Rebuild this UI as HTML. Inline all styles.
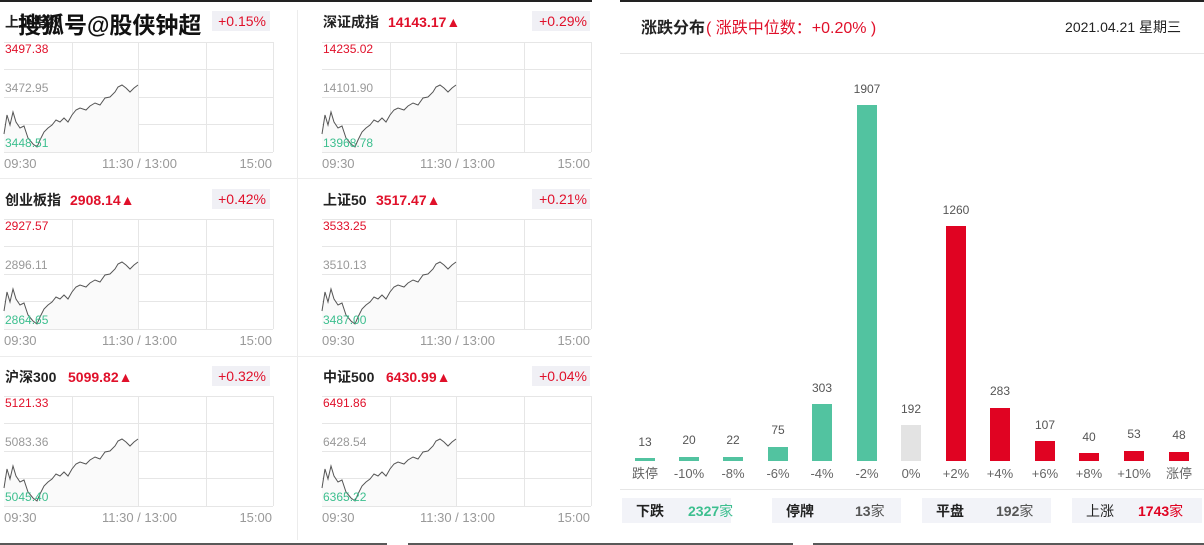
<!DOCTYPE html>
<html><head><meta charset="utf-8"><style>
body{margin:0;width:1204px;height:545px;background:#fff;position:relative;overflow:hidden;font-family:"Liberation Sans","Noto Sans CJK SC",sans-serif;}
.a{position:absolute;white-space:nowrap}
</style></head><body>
<svg class="a" style="left:0;top:0" width="1204" height="545" font-family="Liberation Sans, Noto Sans CJK SC, sans-serif">
<defs>
<g id="grid" stroke="#e6e6e6" stroke-width="1" fill="none">
<line x1="4" y1="42.5" x2="273" y2="42.5"/><line x1="4" y1="69.5" x2="273" y2="69.5"/><line x1="4" y1="97.5" x2="273" y2="97.5"/><line x1="4" y1="124.5" x2="273" y2="124.5"/><line x1="4" y1="152.5" x2="273" y2="152.5"/>
<line x1="72.5" y1="42" x2="72.5" y2="152"/><line x1="138.5" y1="42" x2="138.5" y2="152"/><line x1="206.5" y1="42" x2="206.5" y2="152"/><line x1="273.5" y1="42" x2="273.5" y2="152"/>
</g>
<g id="ln">
<path d="M4,134 L7,115 10,125 13,112 16,122 20,128 24,126 28,138 33,144 37,147 40,140 44,132 48,128 52,125 56,120 60,122 64,118 68,122 72,115 76,110 80,108 86,110 90,106 95,103 100,105 105,98 110,97 115,92 118,87 122,85 126,88 130,92 134,88 138,85 L138,152 L4,152 Z" fill="#fafafa"/>
<polyline points="4,134 7,115 10,125 13,112 16,122 20,128 24,126 28,138 33,144 37,147 40,140 44,132 48,128 52,125 56,120 60,122 64,118 68,122 72,115 76,110 80,108 86,110 90,106 95,103 100,105 105,98 110,97 115,92 118,87 122,85 126,88 130,92 134,88 138,85" fill="none" stroke="#555" stroke-width="1"/>
</g>
</defs>
<g font-size="13">
<g transform="translate(0,0)"><use href="#grid"/><use href="#ln"/></g>
<g transform="translate(318,0)"><use href="#grid"/><use href="#ln"/></g>
<g transform="translate(0,177)"><use href="#grid"/><use href="#ln"/></g>
<g transform="translate(318,177)"><use href="#grid"/><use href="#ln"/></g>
<g transform="translate(0,354)"><use href="#grid"/><use href="#ln"/></g>
<g transform="translate(318,354)"><use href="#grid"/><use href="#ln"/></g>
</g>
<g stroke="#ececec"><line x1="0" y1="178.5" x2="592" y2="178.5"/><line x1="0" y1="356.5" x2="592" y2="356.5"/><line x1="297.5" y1="10" x2="297.5" y2="540"/></g>
<g font-size="14">
<rect x="212" y="11" width="58" height="20" fill="#f0f0f5"/><text x="266" y="26" fill="#e0102a" text-anchor="end">+0.15%</text>
<text x="5" y="27" fill="#222" font-weight="bold">上证指数</text>
<text x="18" y="33" fill="#111" font-size="23" font-weight="bold">搜狐号@股侠钟超</text>
<rect x="532" y="11" width="58" height="20" fill="#f0f0f5"/><text x="587" y="26" fill="#e0102a" text-anchor="end">+0.29%</text>
<text x="323" y="27" fill="#222" font-weight="bold">深证成指</text><text x="388" y="27" fill="#e0102a" font-weight="bold">14143.17▲</text>
<rect x="212" y="189" width="58" height="20" fill="#f0f0f5"/><text x="266" y="204" fill="#e0102a" text-anchor="end">+0.42%</text>
<text x="5" y="205" fill="#222" font-weight="bold">创业板指</text><text x="70" y="205" fill="#e0102a" font-weight="bold">2908.14▲</text>
<rect x="532" y="189" width="58" height="20" fill="#f0f0f5"/><text x="587" y="204" fill="#e0102a" text-anchor="end">+0.21%</text>
<text x="323" y="205" fill="#222" font-weight="bold">上证50</text><text x="376" y="205" fill="#e0102a" font-weight="bold">3517.47▲</text>
<rect x="212" y="366" width="58" height="20" fill="#f0f0f5"/><text x="266" y="381" fill="#e0102a" text-anchor="end">+0.32%</text>
<text x="5" y="382" fill="#222" font-weight="bold">沪深300</text><text x="68" y="382" fill="#e0102a" font-weight="bold">5099.82▲</text>
<rect x="532" y="366" width="58" height="20" fill="#f0f0f5"/><text x="587" y="381" fill="#e0102a" text-anchor="end">+0.04%</text>
<text x="323" y="382" fill="#222" font-weight="bold">中证500</text><text x="386" y="382" fill="#e0102a" font-weight="bold">6430.99▲</text>
</g>
<g font-size="12">
<text x="5" y="53" fill="#e0102a">3497.38</text><text x="5" y="92" fill="#999">3472.95</text><text x="5" y="147" fill="#3dbf8f">3448.51</text>
<text x="323" y="53" fill="#e0102a">14235.02</text><text x="323" y="92" fill="#999">14101.90</text><text x="323" y="147" fill="#3dbf8f">13968.78</text>
<text x="5" y="230" fill="#e0102a">2927.57</text><text x="5" y="269" fill="#999">2896.11</text><text x="5" y="324" fill="#3dbf8f">2864.65</text>
<text x="323" y="230" fill="#e0102a">3533.25</text><text x="323" y="269" fill="#999">3510.13</text><text x="323" y="324" fill="#3dbf8f">3487.00</text>
<text x="5" y="407" fill="#e0102a">5121.33</text><text x="5" y="446" fill="#999">5083.36</text><text x="5" y="501" fill="#3dbf8f">5045.40</text>
<text x="323" y="407" fill="#e0102a">6491.86</text><text x="323" y="446" fill="#999">6428.54</text><text x="323" y="501" fill="#3dbf8f">6365.22</text>
</g>
<g font-size="13" fill="#999">
<text x="4" y="168">09:30</text><text x="102" y="168">11:30 / 13:00</text><text x="272" y="168" text-anchor="end">15:00</text>
<text x="322" y="168">09:30</text><text x="420" y="168">11:30 / 13:00</text><text x="590" y="168" text-anchor="end">15:00</text>
<text x="4" y="345">09:30</text><text x="102" y="345">11:30 / 13:00</text><text x="272" y="345" text-anchor="end">15:00</text>
<text x="322" y="345">09:30</text><text x="420" y="345">11:30 / 13:00</text><text x="590" y="345" text-anchor="end">15:00</text>
<text x="4" y="522">09:30</text><text x="102" y="522">11:30 / 13:00</text><text x="272" y="522" text-anchor="end">15:00</text>
<text x="322" y="522">09:30</text><text x="420" y="522">11:30 / 13:00</text><text x="590" y="522" text-anchor="end">15:00</text>
</g>
<line x1="0" y1="1" x2="592" y2="1" stroke="#222" stroke-width="2"/>
<line x1="620" y1="1" x2="1204" y2="1" stroke="#222" stroke-width="2"/>
<text x="641" y="33" font-size="16" font-weight="bold" fill="#222">涨跌分布</text>
<text x="706" y="33" font-size="16" fill="#e0102a">( 涨跌中位数：+0.20% )</text>
<text x="1181" y="32" font-size="14" fill="#222" text-anchor="end">2021.04.21 星期三</text>
<line x1="620" y1="53.5" x2="1204" y2="53.5" stroke="#e6e6e6"/>
<g font-size="12" fill="#555" text-anchor="middle">
<rect x="635" y="458" width="20" height="3" fill="#52c3a0"/><text x="645" y="446">13</text>
<rect x="679" y="457" width="20" height="4" fill="#52c3a0"/><text x="689" y="444">20</text>
<rect x="723" y="457" width="20" height="4" fill="#52c3a0"/><text x="733" y="444">22</text>
<rect x="768" y="447" width="20" height="14" fill="#52c3a0"/><text x="778" y="434">75</text>
<rect x="812" y="404" width="20" height="57" fill="#52c3a0"/><text x="822" y="392">303</text>
<rect x="857" y="105" width="20" height="356" fill="#52c3a0"/><text x="867" y="93">1907</text>
<rect x="901" y="425" width="20" height="36" fill="#e3e3e3"/><text x="911" y="413">192</text>
<rect x="946" y="226" width="20" height="235" fill="#e00322"/><text x="956" y="214">1260</text>
<rect x="990" y="408" width="20" height="53" fill="#e00322"/><text x="1000" y="395">283</text>
<rect x="1035" y="441" width="20" height="20" fill="#e00322"/><text x="1045" y="429">107</text>
<rect x="1079" y="453" width="20" height="8" fill="#e00322"/><text x="1089" y="441">40</text>
<rect x="1124" y="451" width="20" height="10" fill="#e00322"/><text x="1134" y="438">53</text>
<rect x="1169" y="452" width="20" height="9" fill="#e00322"/><text x="1179" y="439">48</text>
<g font-size="13" fill="#666">
<text x="645" y="478">跌停</text><text x="689" y="478">-10%</text><text x="733" y="478">-8%</text><text x="778" y="478">-6%</text><text x="822" y="478">-4%</text><text x="867" y="478">-2%</text><text x="911" y="478">0%</text><text x="956" y="478">+2%</text><text x="1000" y="478">+4%</text><text x="1045" y="478">+6%</text><text x="1089" y="478">+8%</text><text x="1134" y="478">+10%</text><text x="1179" y="478">涨停</text>
</g></g>
<line x1="620" y1="489.5" x2="1204" y2="489.5" stroke="#e6e6e6"/>
<g font-size="14" font-weight="bold">
<rect x="622" y="498" width="109" height="25" fill="#f2f3f8"/><text x="636" y="516" fill="#222">下跌</text><text x="688" y="516" fill="#3dbf8f">2327<tspan font-weight="normal">家</tspan></text>
<rect x="772" y="498" width="129" height="25" fill="#f2f3f8"/><text x="786" y="516" fill="#222">停牌</text><text x="855" y="516" fill="#555">13<tspan font-weight="normal">家</tspan></text>
<rect x="922" y="498" width="129" height="25" fill="#f2f3f8"/><text x="936" y="516" fill="#222">平盘</text><text x="996" y="516" fill="#555">192<tspan font-weight="normal">家</tspan></text>
<rect x="1072" y="498" width="130" height="25" fill="#f2f3f8"/><text x="1086" y="516" fill="#222" font-weight="normal">上涨</text><text x="1138" y="516" fill="#e00322">1743<tspan font-weight="normal">家</tspan></text>
</g>
<g stroke="#222" stroke-width="1.5"><line x1="0" y1="544" x2="387" y2="544"/><line x1="408" y1="544" x2="793" y2="544"/><line x1="813" y1="544" x2="1204" y2="544"/></g>
</svg>
</body></html>
